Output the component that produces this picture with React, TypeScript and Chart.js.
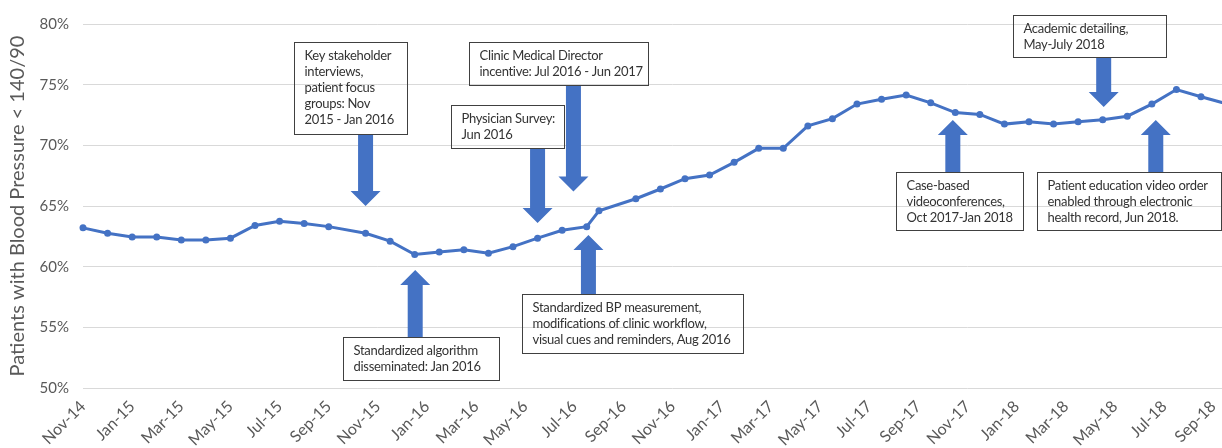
import { useEffect, useRef } from "react";
import { Chart, registerables } from "chart.js";

Chart.register(...registerables);

// Tick labels, every second month starting Nov-2014
const tickLabels = [
  "Nov-14", "Jan-15", "Mar-15", "May-15", "Jul-15", "Sep-15",
  "Nov-15", "Jan-16", "Mar-16", "May-16", "Jul-16", "Sep-16",
  "Nov-16", "Jan-17", "Mar-17", "May-17", "Jul-17", "Sep-17",
  "Nov-17", "Jan-18", "Mar-18", "May-18", "Jul-18", "Sep-18",
];

// Reporting date of each value, in months since Nov-2014
const reportMonth = [
  0, 1, 2, 3, 4, 5, 6, 7, 8, 9, 10,
  11.5, 12.5, 13.5, 14.5, 15.5, 16.5, 17.5, 18.5, 19.5, 20.5,
  21,
  22.5, 23.5, 24.5, 25.5, 26.5, 27.5, 28.5, 29.5, 30.5, 31.5, 32.5, 33.5,
  34.5, 35.5, 36.5, 37.5, 38.5, 39.5, 40.5, 41.5, 42.5, 43.5, 44.5, 45.5, 46.5,
];

// Patients with blood pressure < 140/90 (%)
const controlRate = [
  63.2, 62.75, 62.45, 62.45, 62.2, 62.2, 62.35, 63.4, 63.75, 63.55, 63.3,
  62.75, 62.1, 61.0, 61.2, 61.4, 61.1, 61.65, 62.35, 63.0, 63.3,
  64.6,
  65.6, 66.4, 67.25, 67.55, 68.6, 69.75, 69.75, 71.6, 72.2, 73.4, 73.8, 74.15,
  73.5, 72.7, 72.55, 71.75, 71.95, 71.75, 71.95, 72.1, 72.4, 73.4, 74.6, 74.0, 73.45,
];

const yTicks = [50, 55, 60, 65, 70, 75, 80];

// Annotation texts
const noteTexts = [
  ["Key stakeholder", "interviews,", "patient focus", "groups: Nov", "2015 - Jan 2016"],
  ["Clinic Medical Director", "incentive: Jul 2016 - Jun 2017"],
  ["Physician Survey:", "Jun 2016"],
  ["Standardized algorithm", "disseminated: Jan 2016"],
  ["Standardized BP measurement,", "modifications of clinic workflow,", "visual cues and reminders, Aug 2016"],
  ["Case-based", "videoconferences,", "Oct 2017-Jan 2018"],
  ["Patient education video order", "enabled through electronic", "health record, Jun 2018."],
  ["Academic detailing,", "May-July 2018"],
];
// Box extent in data units: [month left, % top, month right, % bottom]
const noteBoxes = [
  [8.58, 78.52, 13.17, 70.94],
  [15.69, 78.52, 23.01, 74.98],
  [14.96, 73.33, 19.59, 69.79],
  [10.57, 54.2, 16.91, 50.66],
  [17.85, 57.75, 26.87, 52.89],
  [33.09, 67.81, 38.25, 63.03],
  [38.82, 67.81, 46.3, 63.03],
  [37.85, 80.75, 44.07, 77.29],
];
// Arrow in data units: [month, % from, % tip]
const noteArrows = [
  [11.5, 70.94, 65.0],
  [19.96, 74.98, 66.2],
  [18.5, 69.79, 63.6],
  [13.52, 54.2, 59.73],
  [20.57, 57.75, 62.61],
  [35.4, 67.81, 72.09],
  [43.66, 67.81, 72.09],
  [41.54, 77.29, 73.16],
];

const BLUE = "#4472C4";
const GREY = "#595959";
const FONT = "Lato, 'Open Sans', sans-serif";

const notesPlugin = {
  id: "notes",
  afterDraw(chart: any) {
    const { ctx, scales } = chart;
    const xs = scales.x;
    const ys = scales.y;
    ctx.save();
    // arrows
    noteArrows.forEach(([m, from, to]) => {
      const x = xs.getPixelForValue(m);
      const y0 = ys.getPixelForValue(from);
      const y1 = ys.getPixelForValue(to);
      const dir = y1 > y0 ? 1 : -1;
      const sw = 7.5, hw = 15, hl = 15;
      const yb = y1 - dir * hl;
      ctx.beginPath();
      ctx.moveTo(x - sw, y0);
      ctx.lineTo(x - sw, yb);
      ctx.lineTo(x - hw, yb);
      ctx.lineTo(x, y1);
      ctx.lineTo(x + hw, yb);
      ctx.lineTo(x + sw, yb);
      ctx.lineTo(x + sw, y0);
      ctx.closePath();
      ctx.fillStyle = BLUE;
      ctx.fill();
    });
    // boxes
    noteBoxes.forEach(([m0, v0, m1, v1], i) => {
      const x0 = Math.round(xs.getPixelForValue(m0)) + 0.5;
      const x1 = Math.round(xs.getPixelForValue(m1)) + 0.5;
      const y0 = Math.round(ys.getPixelForValue(v0)) + 0.5;
      const y1 = Math.round(ys.getPixelForValue(v1)) + 0.5;
      ctx.strokeStyle = "#404040";
      ctx.lineWidth = 1;
      ctx.strokeRect(x0, y0, x1 - x0, y1 - y0);
      ctx.fillStyle = "#333333";
      ctx.font = `13px ${FONT}`;
      (ctx as any).letterSpacing = "-0.3px";
      ctx.textBaseline = "middle";
      ctx.textAlign = "left";
      noteTexts[i].forEach((line, j) => {
        ctx.fillText(line, x0 + 10, y0 + 13 + j * 16);
      });
    });
    ctx.restore();
  },
};

export default function App() {
  const ref = useRef<HTMLCanvasElement>(null);
  useEffect(() => {
    const canvas = ref.current!;
    const chart = new Chart(canvas, {
      type: "line",
      data: {
        datasets: [
          {
            data: reportMonth.map((m, i) => ({ x: m, y: controlRate[i] })),
            borderColor: BLUE,
            backgroundColor: BLUE,
            borderWidth: 3,
            pointRadius: 3.5,
            pointBackgroundColor: BLUE,
            pointBorderColor: BLUE,
            pointBorderWidth: 0,
            tension: 0,
            clip: false as any,
          },
        ],
      },
      options: {
        responsive: false,
        animation: false,
        devicePixelRatio: 1,
        layout: { padding: { top: 24, left: 0, right: 0, bottom: 0 } },
        plugins: {
          legend: { display: false },
          tooltip: { enabled: false },
        },
        scales: {
          x: {
            type: "linear",
            min: 0,
            max: 48,
            grid: { display: false, drawTicks: false },
            border: { display: false },
            afterFit: (s: any) => {
              s.height = 60;
            },
            ticks: {
              stepSize: 2,
              autoSkip: false,
              minRotation: 45,
              maxRotation: 45,
              padding: 9,
              color: GREY,
              font: { family: FONT, size: 16 },
              callback: (v: any) => tickLabels[Math.round(Number(v) / 2)] ?? "",
            },
          },
          y: {
            min: 50,
            max: 80,
            afterFit: (s: any) => {
              s.width = 83;
            },
            afterBuildTicks: (s: any) => {
              s.ticks = yTicks.map((v) => ({ value: v }));
            },
            grid: { color: "#d9d9d9", lineWidth: 1, drawTicks: false },
            border: { display: false },
            ticks: {
              padding: 14,
              color: GREY,
              font: { family: FONT, size: 15 },
              callback: (v: any) => `${v}%`,
            },
            title: {
              display: true,
              text: "Patients with Blood Pressure < 140/90",
              color: GREY,
              font: { family: FONT, size: 20 },
              padding: { top: 6, bottom: 0 },
            },
          },
        },
      },
      plugins: [notesPlugin],
    });
    return () => chart.destroy();
  }, []);
  return (
    <div
      style={{
        position: "fixed",
        left: 0,
        top: 0,
        width: 1222,
        height: 448,
        overflow: "hidden",
        background: "#ffffff",
      }}
    >
      <canvas
        ref={ref}
        width={1285}
        height={448}
        style={{ display: "block", width: 1285, height: 448 }}
      />
    </div>
  );
}
